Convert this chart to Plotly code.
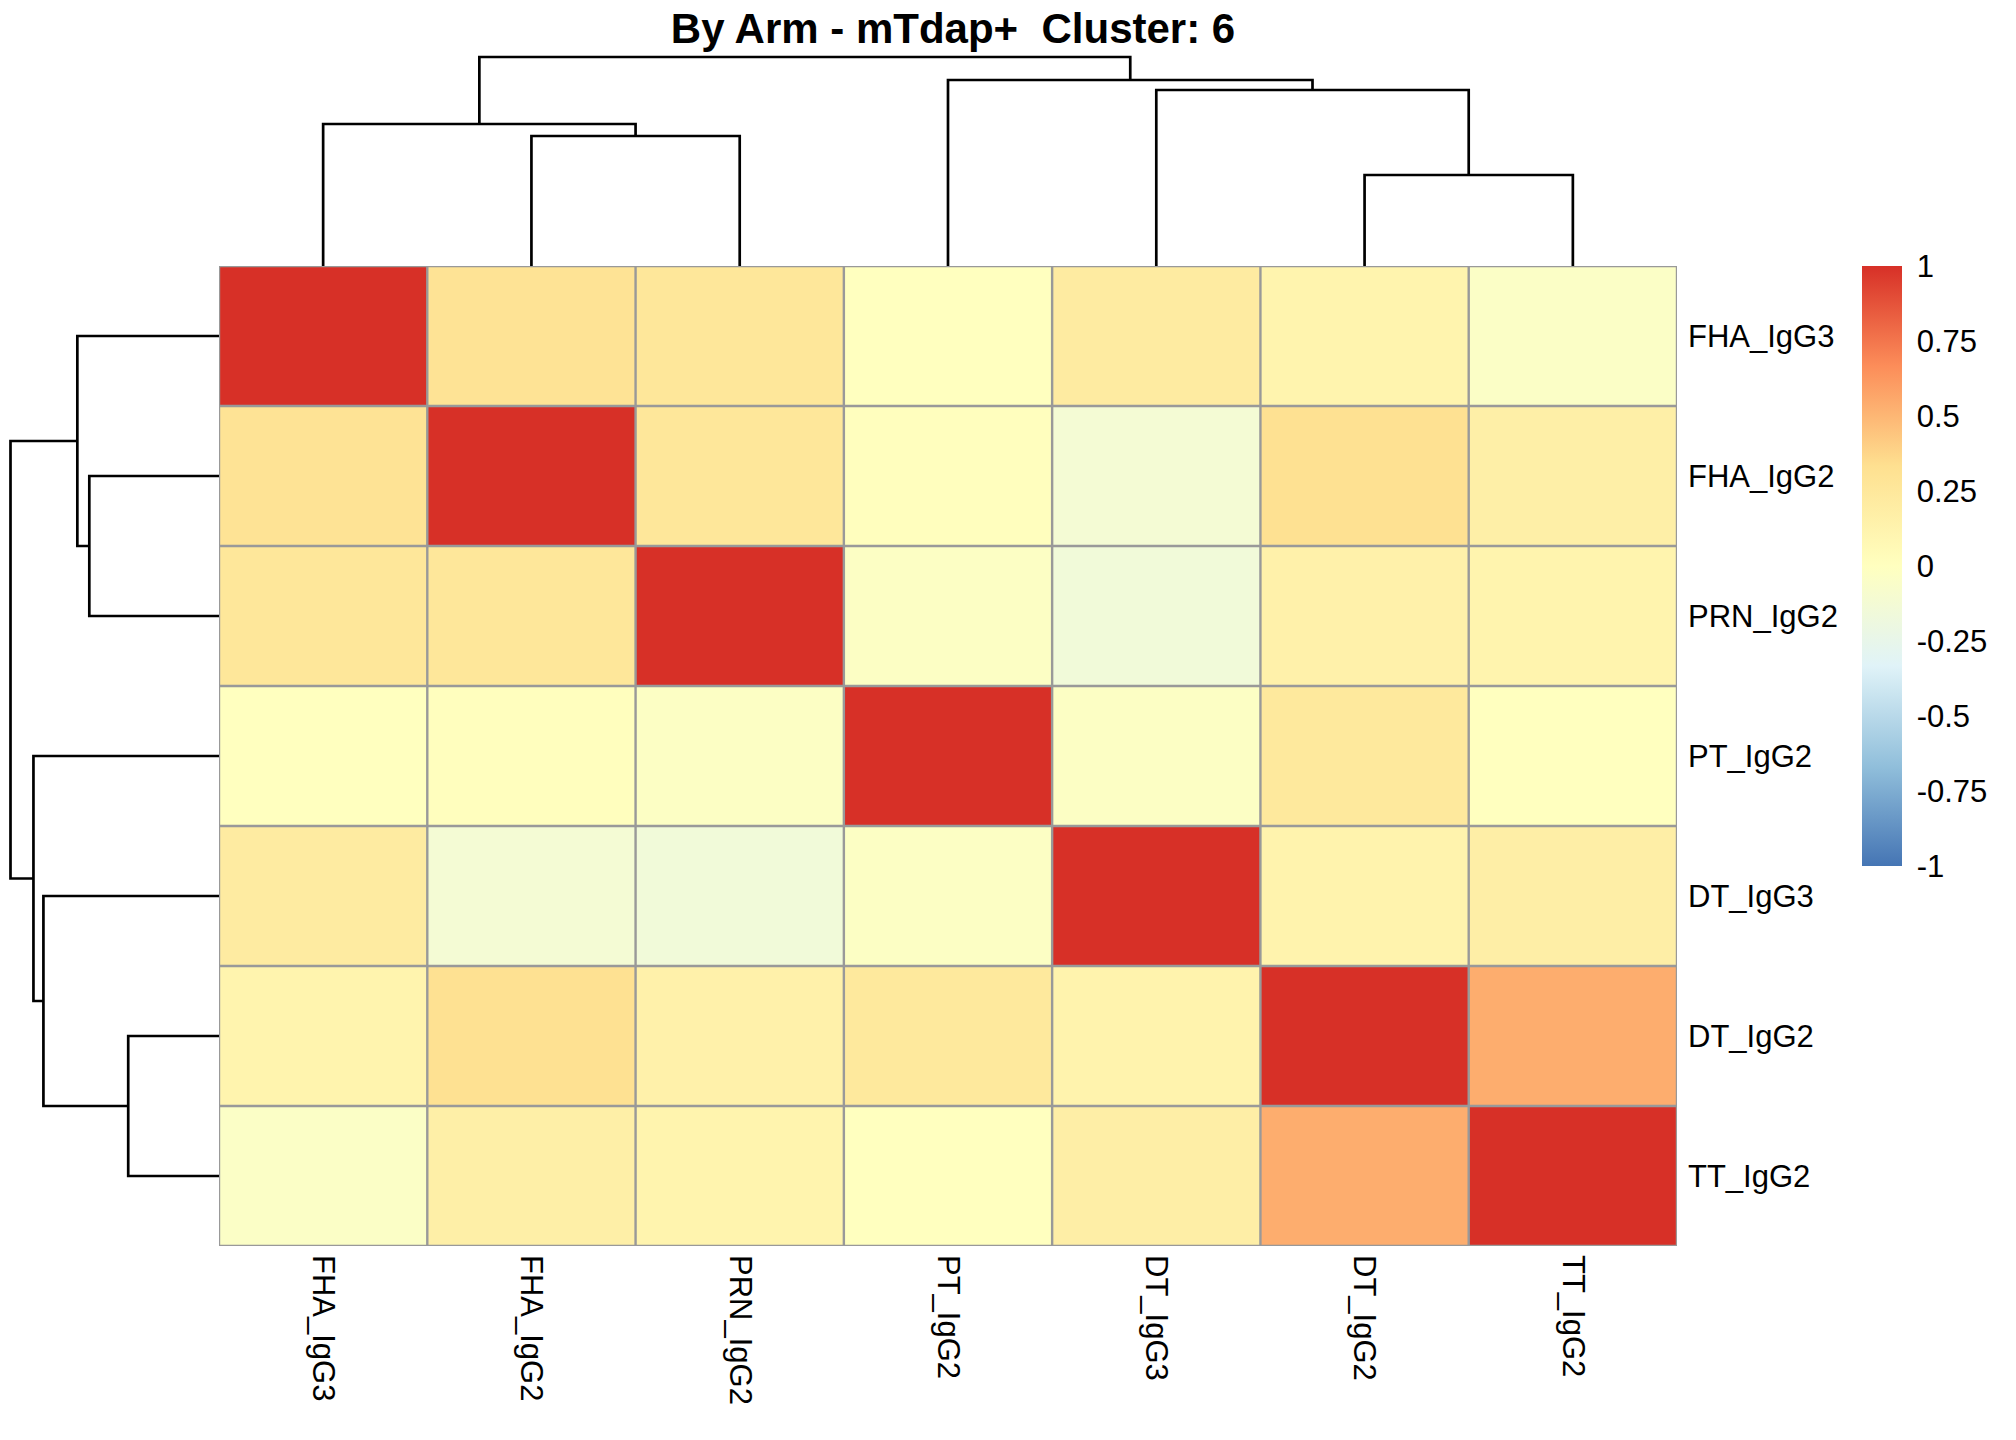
import plotly.graph_objects as go

labels = ["FHA_IgG3", "FHA_IgG2", "PRN_IgG2", "PT_IgG2", "DT_IgG3", "DT_IgG2", "TT_IgG2"]

# correlation matrix, rows/cols in the clustered (displayed) order
corr = [
    [1.00, 0.30, 0.26, 0.00, 0.21, 0.12, -0.04],
    [0.30, 1.00, 0.26, 0.01, -0.12, 0.32, 0.17],
    [0.26, 0.26, 1.00, -0.03, -0.15, 0.15, 0.12],
    [0.00, 0.01, -0.03, 1.00, -0.03, 0.24, 0.00],
    [0.21, -0.12, -0.15, -0.03, 1.00, 0.13, 0.18],
    [0.12, 0.32, 0.15, 0.24, 0.13, 1.00, 0.54],
    [-0.04, 0.17, 0.12, 0.00, 0.18, 0.54, 1.00],
]

# hierarchical merges (same tree for rows and columns): child a, child b, height
# leaves are 0..6, new clusters get 7, 8, ...
merges = [
    (1, 2, 1.30),
    (5, 6, 0.91),
    (0, 7, 1.42),
    (4, 8, 1.76),
    (3, 10, 1.86),
    (9, 11, 2.09),
]

cbar_ticks = [-1, -0.75, -0.5, -0.25, 0, 0.25, 0.5, 0.75, 1]
cbar_text = ["-1", "-0.75", "-0.5", "-0.25", "0", "0.25", "0.5", "0.75", "1"]

# rev(brewer RdYlBu 7)
palette = ["#4575B4", "#91BFDB", "#E0F3F8", "#FFFFBF", "#FEE090", "#FC8D59", "#D73027"]
colorscale = [[i / (len(palette) - 1), c] for i, c in enumerate(palette)]

# page has an 8px body margin, so the figure is made a bit smaller and
# everything is placed relative to where it should land in the window
OFF = 8
FW, FH = 2016 - OFF, 1440 - OFF
FONT = "Liberation Sans, Arial, sans-serif"
n = len(labels)


def px(p):
    return (p - OFF) / FW


def py(p):
    return 1 - (p - OFF) / FH


def dendro_segments(merges, n):
    pos = {i: float(i) for i in range(n)}
    hgt = {i: 0.0 for i in range(n)}
    xs, ys = [], []
    for k, (a, b, h) in enumerate(merges):
        node = n + k
        xs += [pos[a], pos[a], pos[b], pos[b], None]
        ys += [hgt[a], h, h, hgt[b], None]
        pos[node] = (pos[a] + pos[b]) / 2
        hgt[node] = h
    return xs, ys


dpos, dh = dendro_segments(merges, n)
root_h = max(m[2] for m in merges)
pad = 1.012

fig = go.Figure()

fig.add_trace(go.Heatmap(
    z=corr, x=list(range(n)), y=list(range(n)),
    colorscale=colorscale, zmin=-1, zmax=1,
    hoverinfo="skip",
    colorbar=dict(
        x=px(1862), xanchor="left", xpad=0, ypad=0,
        y=py(266), yanchor="top",
        len=600, lenmode="pixels", thickness=40,
        outlinewidth=0,
        tickvals=cbar_ticks, ticktext=cbar_text,
        ticks="outside", ticklen=9, tickcolor="rgba(0,0,0,0)",
        tickfont=dict(family=FONT, size=31, color="black"),
    ),
))

# column dendrogram on top
fig.add_trace(go.Scatter(x=dpos, y=dh, mode="lines", xaxis="x", yaxis="y2",
                         line=dict(color="black", width=2.7), hoverinfo="skip",
                         showlegend=False))
# row dendrogram on the left
fig.add_trace(go.Scatter(x=dh, y=dpos, mode="lines", xaxis="x2", yaxis="y",
                         line=dict(color="black", width=2.7), hoverinfo="skip",
                         showlegend=False))

# cell borders
for i in range(n + 1):
    fig.add_shape(type="line", xref="x", yref="y", x0=i - 0.5, x1=i - 0.5,
                  y0=-0.5, y1=n - 0.5, line=dict(color="#999999", width=2.4))
    fig.add_shape(type="line", xref="x", yref="y", y0=i - 0.5, y1=i - 0.5,
                  x0=-0.5, x1=n - 0.5, line=dict(color="#999999", width=2.4))

hm_l, hm_r, hm_t, hm_b = 219, 1677, 266, 1246
dend_px = 209  # pixel length of the root height in both dendrograms

fig.update_layout(
    width=FW, height=FH,
    margin=dict(l=0, r=0, t=0, b=0),
    paper_bgcolor="white", plot_bgcolor="white",
    showlegend=False,
    title=dict(text="<b>By Arm - mTdap+  Cluster: 6</b>", x=px(953), xanchor="center",
               y=py(28), yanchor="middle",
               font=dict(family=FONT, size=42, color="black")),
    xaxis=dict(domain=[px(hm_l), px(hm_r)], range=[-0.5, n - 0.5], anchor="y",
               tickvals=list(range(n)), ticktext=labels, tickangle=90,
               ticks="", ticklabelstandoff=8, showgrid=False, zeroline=False,
               tickfont=dict(family=FONT, size=31, color="black")),
    yaxis=dict(domain=[py(hm_b), py(hm_t)], range=[n - 0.5, -0.5], anchor="x", side="right",
               tickvals=list(range(n)), ticktext=labels,
               ticks="", ticklabelstandoff=10, showgrid=False, zeroline=False,
               tickfont=dict(family=FONT, size=31, color="black")),
    yaxis2=dict(domain=[py(hm_t), py(hm_t - dend_px * pad)], range=[0, root_h * pad],
                anchor="x", visible=False),
    xaxis2=dict(domain=[max(px(hm_l - dend_px * pad), 0), px(hm_l)], range=[root_h * pad, 0],
                anchor="y", visible=False),
)

fig.write_html("out.html")
